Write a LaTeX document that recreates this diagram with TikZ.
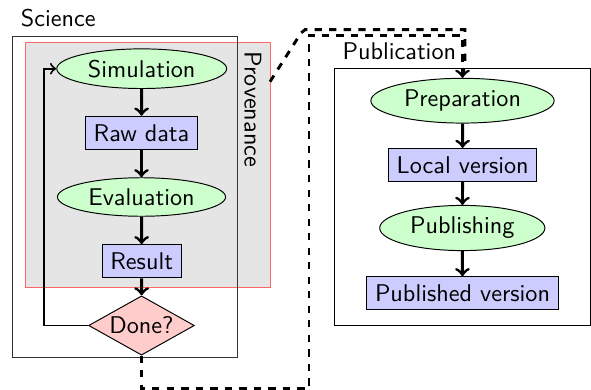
\documentclass[tikz,border=0pt]{standalone}
\usetikzlibrary{shapes.geometric}
\begin{document}
\begin{tikzpicture}[x=0.4132pt,y=-0.4132pt,font=\sffamily,
  ell/.style={ellipse,draw,fill=green!20,inner xsep=2.6pt,inner ysep=2.1pt},
  box/.style={rectangle,draw,fill=blue!20},
  dec/.style={diamond,draw,fill=red!20,aspect=2,inner sep=0pt,minimum width=43.7pt,minimum height=24.5pt},
  flow/.style={very thick,->},
  loopline/.style={thick,->},
  link/.style={very thick,dashed},
  lbl/.style={anchor=south west}]
\useasboundingbox (0,0) rectangle (591,389);
% containers
\coordinate (provNW) at (25.7,42.7);
\coordinate (provSE) at (270,287.3);
\coordinate (provNE) at (270,42.7);
\coordinate (sciNW) at (12.3,36);
\coordinate (sciSE) at (237.7,357.7);
\coordinate (pubNW) at (334,68.7);
\coordinate (pubSE) at (590,325);
\draw[red!60,fill=gray!20] (provNW) rectangle (provSE);
\draw[black!80] (sciNW) rectangle (sciSE);
\draw (pubNW) rectangle (pubSE);
\node[lbl] (scilabel) at (sciNW) {Science};
\node[lbl] (publabel) at (pubNW) {Publication};
\node[rotate=-90,anchor=north west] (provlabel) at (provNE) {Provenance};
% science flow
\node[ell] (sim) at (141.7,68.7) {Simulation};
\node[box] (raw) at (141.5,132.8) {Raw data};
\node[ell] (eval) at (141.5,197) {Evaluation};
\node[box] (res) at (141.7,261.3) {Result};
\node[dec] (done) at (141.5,325.5) {Done?};
\draw[flow] (sim) -- (raw);
\draw[flow] (raw) -- (eval);
\draw[flow] (eval) -- (res);
\draw[flow] (res) -- (done);
\coordinate (loopc) at (44.3,325.5);
\draw[loopline] (done.west) -- (loopc) |- (sim.west);
% publication flow
\node[ell] (prep) at (462.5,100.7) {Preparation};
\node[box] (local) at (462.7,165) {Local version};
\node[ell] (publ) at (462.3,228) {Publishing};
\node[box] (pubv) at (462.5,293.3) {Published version};
\draw[flow] (prep) -- (local);
\draw[flow] (local) -- (publ);
\draw[flow] (publ) -- (pubv);
% dashed links
\coordinate (b1) at (141.5,388.5);
\coordinate (b2) at (309,388.5);
\coordinate (t1) at (309,35.3);
\draw[link,->] (done.south) -- (b1) -- (b2) -- (t1) -| (prep.north);
\coordinate (o1) at (270,81.7);
\coordinate (o2) at (301,33);
\coordinate (o3) at (305,29.7);
\coordinate (o4) at (465,29.7);
\coordinate (o5) at (465,60);
\draw[link] (o1) -- (o2) -- (o3) -- (o4) -- (o5) -- (prep.north);
\end{tikzpicture}
\end{document}
